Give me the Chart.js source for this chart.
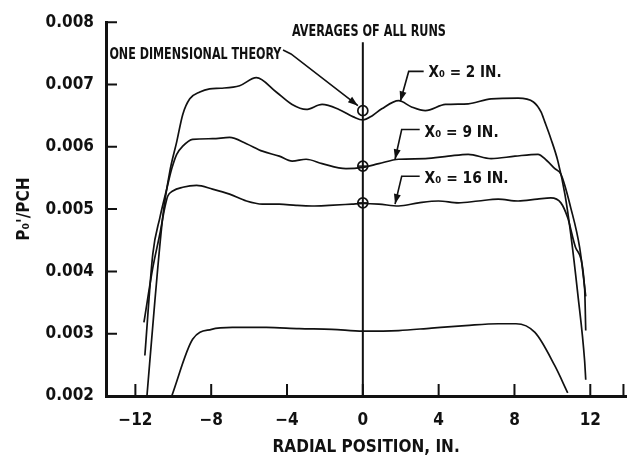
<!DOCTYPE html>
<html>
<head>
<meta charset="utf-8">
<script src="https://cdn.jsdelivr.net/npm/chart.js@4/dist/chart.umd.min.js"></script>
<style>
body { margin: 0; background: #fff; }
</style>
</head>
<body>
<canvas id="chart" width="633" height="462"></canvas>
<script>
// radial position (in.) vs P0'/PCH
var x2in = [-11.39, -10.97, -10.55, -10.18, -9.82, -9.5, -9.13, -8.6, -8.08, -7.5, -6.5, -5.62, -4.57, -3.73, -2.99, -2.15, -1.26, -0.5, 0, 0.5, 1.0, 1.89, 2.57, 3.3, 4.36, 5.56, 6.77, 8.19, 9.0, 9.4, 9.6, 9.92, 10.29, 10.66, 10.97, 11.34, 11.7, 11.76];
var y2in = [0.00200, 0.00353, 0.00489, 0.00561, 0.00608, 0.00652, 0.00677, 0.00688, 0.00693, 0.00694, 0.00698, 0.00711, 0.00688, 0.00668, 0.00660, 0.00668, 0.00660, 0.00648, 0.00643, 0.00650, 0.00661, 0.00674, 0.00664, 0.00658, 0.00668, 0.00669, 0.00677, 0.00678, 0.00672, 0.00656, 0.00640, 0.00613, 0.00577, 0.00524, 0.00460, 0.00364, 0.00257, 0.00226];

var x9in = [-11.5, -11.08, -10.71, -10.34, -10.08, -9.82, -9.5, -8.98, -7.93, -7.03, -6.14, -5.3, -4.41, -3.73, -2.99, -2.15, -0.89, 0, 0.84, 1.89, 3.3, 4.51, 5.56, 6.77, 8.03, 9.24, 9.7, 10.13, 10.45, 10.97, 11.44, 11.76];
var y9in = [0.00265, 0.00428, 0.00486, 0.00533, 0.00565, 0.00588, 0.00601, 0.00612, 0.00613, 0.00615, 0.00605, 0.00593, 0.00585, 0.00577, 0.00580, 0.00573, 0.00565, 0.00567, 0.00573, 0.00580, 0.00581, 0.00585, 0.00588, 0.00581, 0.00585, 0.00588, 0.00578, 0.00565, 0.00556, 0.00502, 0.00438, 0.00360];

var x16in = [-11.55, -11.08, -10.71, -10.45, -10.29, -10.03, -9.5, -8.77, -7.93, -7.03, -6.14, -5.3, -4.41, -3.52, -2.68, -1.78, -0.58, 0, 0.84, 1.89, 2.94, 3.99, 5.04, 6.09, 7.14, 8.19, 9.2, 9.92, 10.45, 10.81, 11.23, 11.7, 11.76];
var y16in = [0.00318, 0.00406, 0.00460, 0.00502, 0.00521, 0.00529, 0.00535, 0.00538, 0.00532, 0.00524, 0.00513, 0.00508, 0.00508, 0.00506, 0.00505, 0.00506, 0.00508, 0.00509, 0.00508, 0.00505, 0.00510, 0.00513, 0.00510, 0.00513, 0.00516, 0.00513, 0.00516, 0.00518, 0.00510, 0.00486, 0.00438, 0.00374, 0.00305];

var xLow = [-10.08, -8.98, -7.98, -6.88, -5.09, -3.36, -1.63, 0, 1.89, 3.62, 5.41, 7.14, 8.08, 9.08, 10.12, 10.81];
var yLow = [0.00200, 0.00291, 0.00307, 0.00310, 0.00310, 0.00308, 0.00307, 0.00304, 0.00305, 0.00309, 0.00313, 0.00316, 0.00316, 0.00302, 0.00249, 0.00205];

// averages of all runs (circles on the centre line)
var avgX = [0, 0, 0];
var avgY = [0.00658, 0.00569, 0.00510];
var centreLineY = [0.00768, 0.002];

var xTicks = [-12, -8, -4, 0, 4, 8, 12];
var yTicks = [0.002, 0.003, 0.004, 0.005, 0.006, 0.007, 0.008];

var FONT = "'DejaVu Sans Condensed', 'Liberation Sans Narrow', 'DejaVu Sans', sans-serif";
Chart.defaults.font.family = FONT;
Chart.defaults.color = '#111';

function pts(xs, ys) {
    return xs.map(function (x, i) { return { x: x, y: ys[i] }; });
}

function curve(data) {
    return {
        data: data,
        borderColor: '#111',
        borderWidth: 1.7,
        pointRadius: 0,
        fill: false,
        cubicInterpolationMode: 'monotone'
    };
}

// tick marks point into the plot in the original
var inwardTicks = {
    id: 'inwardTicks',
    afterDraw: function (chart) {
        var ctx = chart.ctx, xs = chart.scales.x, ys = chart.scales.y;
        var a = chart.chartArea;
        ctx.save();
        ctx.strokeStyle = '#111';
        ctx.lineWidth = 2;
        ctx.beginPath();
        xTicks.concat([xs.max - 0.15]).forEach(function (v) {
            var px = xs.getPixelForValue(v);
            ctx.moveTo(px, a.bottom);
            ctx.lineTo(px, a.bottom - 12);
        });
        yTicks.slice(1).forEach(function (v) {
            var py = ys.getPixelForValue(v);
            ctx.moveTo(a.left, py);
            ctx.lineTo(a.left + 11, py);
        });
        ctx.stroke();
        ctx.restore();
    }
};

function arrowHead(ctx, x0, y0, x1, y1) {
    var ang = Math.atan2(y1 - y0, x1 - x0);
    var len = 10, hw = 3.5;
    ctx.beginPath();
    ctx.moveTo(x1, y1);
    ctx.lineTo(x1 - len * Math.cos(ang) + hw * Math.sin(ang), y1 - len * Math.sin(ang) - hw * Math.cos(ang));
    ctx.lineTo(x1 - len * Math.cos(ang) - hw * Math.sin(ang), y1 - len * Math.sin(ang) + hw * Math.cos(ang));
    ctx.closePath();
    ctx.fill();
}

// labels and leader lines, placed in data units
var notes = [
    { text: 'AVERAGES OF ALL RUNS', x: -3.74, y: 0.007856, w: 154, size: 16, leader: null },
    { text: 'ONE DIMENSIONAL THEORY', x: -13.37, y: 0.00749, w: 172, size: 15,
      leader: [[-4.21, 0.007553], [-3.79, 0.00749], [-0.26, 0.00666]] },
    { text: 'X\u2080 = 2 IN.', x: 3.47, y: 0.0072, w: 73, size: 16,
      leader: [[3.21, 0.00721], [2.42, 0.00721], [1.98, 0.00673]] },
    { text: 'X\u2080 = 9 IN.', x: 3.26, y: 0.006245, w: 74, size: 16,
      leader: [[3.0, 0.006277], [2.05, 0.006277], [1.7, 0.0058]] },
    { text: 'X\u2080 = 16 IN.', x: 3.26, y: 0.005495, w: 84, size: 16,
      leader: [[3.0, 0.005527], [2.05, 0.005527], [1.7, 0.00508]] }
];

var notesPlugin = {
    id: 'notes',
    afterDatasetsDraw: function (chart) {
        var ctx = chart.ctx, xs = chart.scales.x, ys = chart.scales.y;
        ctx.save();
        ctx.fillStyle = '#111';
        ctx.strokeStyle = '#111';
        ctx.lineWidth = 1.6;
        notes.forEach(function (n) {
            ctx.font = 'bold ' + n.size + 'px ' + FONT;
            var m = ctx.measureText(n.text).width;
            ctx.save();
            ctx.translate(xs.getPixelForValue(n.x), ys.getPixelForValue(n.y));
            ctx.scale(n.w / m, 1);
            ctx.textBaseline = 'middle';
            ctx.fillText(n.text, 0, 1);
            ctx.restore();
            if (n.leader) {
                var p = n.leader.map(function (q) {
                    return [xs.getPixelForValue(q[0]), ys.getPixelForValue(q[1])];
                });
                ctx.beginPath();
                ctx.moveTo(p[0][0], p[0][1]);
                for (var i = 1; i < p.length; i++) ctx.lineTo(p[i][0], p[i][1]);
                ctx.stroke();
                var k = p.length - 1;
                arrowHead(ctx, p[k - 1][0], p[k - 1][1], p[k][0], p[k][1]);
            }
        });
        ctx.restore();
    }
};

var ctx = document.getElementById('chart').getContext('2d');
var myChart = new Chart(ctx, {
    type: 'line',
    data: {
        datasets: [
            curve(pts(x2in, y2in)),
            curve(pts(x9in, y9in)),
            curve(pts(x16in, y16in)),
            curve(pts(xLow, yLow)),
            {
                data: pts([0, 0], centreLineY),
                borderColor: '#111',
                borderWidth: 2,
                pointRadius: 0
            },
            {
                data: pts(avgX, avgY),
                showLine: false,
                pointStyle: 'circle',
                pointRadius: 5,
                pointBorderWidth: 1.7,
                pointBorderColor: '#111',
                pointBackgroundColor: 'rgba(0,0,0,0)'
            },
            {
                data: pts(avgX.slice(1), avgY.slice(1)),
                showLine: false,
                pointStyle: 'line',
                pointRadius: 5,
                pointBorderWidth: 1.5,
                pointBorderColor: '#111'
            }
        ]
    },
    options: {
        responsive: false,
        animation: false,
        clip: false,
        layout: { padding: { left: 0, right: 5, top: 20, bottom: 0 } },
        plugins: {
            legend: { display: false },
            tooltip: { enabled: false }
        },
        scales: {
            x: {
                type: 'linear',
                min: -13.55,
                max: 13.9,
                afterBuildTicks: function (scale) {
                    scale.ticks = xTicks.map(function (v) { return { value: v }; });
                },
                afterFit: function (scale) { scale.height = 66; },
                grid: { display: false, drawTicks: false },
                border: { display: true, width: 3, color: '#111' },
                ticks: {
                    padding: 14,
                    maxRotation: 0,
                    font: { size: 17, weight: 'bold' },
                    callback: function (v) { return v < 0 ? '\u2212' + Math.abs(v) : String(v); }
                },
                title: {
                    display: true,
                    text: 'RADIAL POSITION, IN.',
                    font: { size: 17, weight: 'bold' },
                    padding: { top: 0, bottom: 4 }
                }
            },
            y: {
                min: 0.002,
                max: 0.008,
                afterBuildTicks: function (scale) {
                    scale.ticks = yTicks.map(function (v) { return { value: v }; });
                },
                afterFit: function (scale) { scale.width = 106; },
                grid: { display: false, drawTicks: false },
                border: { display: true, width: 3, color: '#111' },
                ticks: {
                    padding: 12,
                    font: { size: 17, weight: 'bold' },
                    callback: function (v) { return v.toFixed(3); }
                },
                title: {
                    display: true,
                    text: "P\u2080'/PCH",
                    font: { size: 17, weight: 'bold' },
                    padding: { top: 14, bottom: 0 }
                }
            }
        }
    },
    plugins: [inwardTicks, notesPlugin]
});
</script>
</body>
</html>
